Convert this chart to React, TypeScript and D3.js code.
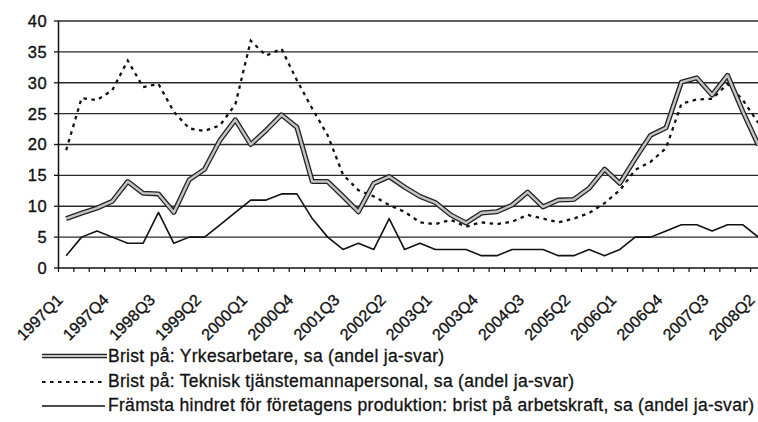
import * as d3 from "d3";

const QUARTERS = [
  "1997Q1", "1997Q2", "1997Q3", "1997Q4",
  "1998Q1", "1998Q2", "1998Q3", "1998Q4",
  "1999Q1", "1999Q2", "1999Q3", "1999Q4",
  "2000Q1", "2000Q2", "2000Q3", "2000Q4",
  "2001Q1", "2001Q2", "2001Q3", "2001Q4",
  "2002Q1", "2002Q2", "2002Q3", "2002Q4",
  "2003Q1", "2003Q2", "2003Q3", "2003Q4",
  "2004Q1", "2004Q2", "2004Q3", "2004Q4",
  "2005Q1", "2005Q2", "2005Q3", "2005Q4",
  "2006Q1", "2006Q2", "2006Q3", "2006Q4",
  "2007Q1", "2007Q2", "2007Q3", "2007Q4",
  "2008Q1", "2008Q2",
];

// every third quarter gets a label
const LABELED = [
  "1997Q1", "1997Q4", "1998Q3", "1999Q2", "2000Q1", "2000Q4", "2001Q3", "2002Q2",
  "2003Q1", "2003Q4", "2004Q3", "2005Q2", "2006Q1", "2006Q4", "2007Q3", "2008Q2",
];

const Y_TICKS = [0, 5, 10, 15, 20, 25, 30, 35, 40];

// Brist på: Yrkesarbetare
const yrkes = [
  8.0, 8.9, 9.7, 10.8, 14.0, 12.1, 12.0, 9.0, 14.3, 16.0, 20.7, 24.0,
  20.0, 22.3, 24.8, 22.8, 14.0, 14.0, 11.6, 9.1, 13.7, 14.8, 13.1,
  11.6, 10.6, 8.6, 7.3, 8.9, 9.1, 10.2, 12.3, 9.9, 11.0, 11.1,
  12.9, 16.0, 13.7, 17.7, 21.5, 22.7, 30.1, 30.8, 28.0, 31.2, 25.3, 19.9,
];

// Brist på: Teknisk tjänstemannapersonal
const teknisk = [
  19.1, 27.5, 27.2, 28.8, 33.6, 29.3, 29.8, 25.3, 22.6, 22.2, 23.1, 26.5,
  36.8, 34.4, 35.5, 30.4, 25.8, 21.5, 15.1, 12.6, 11.6, 10.2, 9.1,
  7.4, 7.1, 7.8, 6.7, 7.4, 7.1, 7.5, 8.6, 8.0, 7.4, 8.0,
  8.9, 10.5, 12.6, 15.9, 17.2, 19.4, 26.6, 27.3, 27.4, 29.8, 27.2, 23.5,
];

// Främsta hindret: brist på arbetskraft
const framsta = [
  2, 5, 6, 5, 4, 4, 9, 4, 5, 5, 7, 9,
  11, 11, 12, 12, 8, 5, 3, 4, 3, 8, 3,
  4, 3, 3, 3, 2, 2, 3, 3, 3, 2, 2, 3,
  2, 3, 5, 5, 6, 7, 7, 6, 7, 7, 5,
];

const LEGEND = [
  "Brist på: Yrkesarbetare, sa (andel ja-svar)",
  "Brist på: Teknisk tjänstemannapersonal, sa (andel ja-svar)",
  "Främsta hindret för företagens produktion: brist på arbetskraft, sa (andel ja-svar)",
];

const W = 758;
const H = 422;
const FONT = "'Liberation Sans', Arial, Helvetica, sans-serif";
const INK = "#111";

export default function App() {
  const x = d3.scaleBand<string>().domain(QUARTERS).range([58.5, 58.5 + 46 * 15.38]).padding(0);
  const y = d3.scaleLinear().domain([0, 40]).range([268, 21]);
  const cx = (q: string) => (x(q) ?? 0) + x.bandwidth() / 2;

  const line = d3
    .line<number>()
    .x((_, i) => cx(QUARTERS[i]))
    .y((d) => y(d));

  const boundaries = d3.range(QUARTERS.length + 1).map((i) => 58.5 + i * x.bandwidth());

  return (
    <svg
      width={W}
      height={H}
      style={{ position: "absolute", left: 0, top: 0, background: "#fff" }}
      fontFamily={FONT}
    >
      {/* grid */}
      {Y_TICKS.filter((t) => t > 0).map((t) => (
        <line key={t} x1={58} x2={W} y1={y(t)} y2={y(t)} stroke="#2a2a2a" strokeWidth={1.3} />
      ))}

      {/* y axis */}
      <line x1={58.5} x2={58.5} y1={y(40)} y2={y(0)} stroke={INK} strokeWidth={1.5} />
      {Y_TICKS.map((t) => (
        <g key={t}>
          <line x1={54} x2={58.5} y1={y(t)} y2={y(t)} stroke={INK} strokeWidth={1.3} />
          <text
            x={47}
            y={y(t)}
            dy="0.36em"
            textAnchor="end"
            fontSize={16.5}
            letterSpacing={0.4}
            fill={INK}
            stroke={INK}
            strokeWidth={0.35}
          >
            {t}
          </text>
        </g>
      ))}

      {/* x axis */}
      <line x1={58} x2={W} y1={y(0)} y2={y(0)} stroke={INK} strokeWidth={1.6} />
      {boundaries.map((b, i) => (
        <line key={i} x1={b} x2={b} y1={y(0)} y2={y(0) + 4} stroke={INK} strokeWidth={1.2} />
      ))}
      {LABELED.map((q) => (
        <text
          key={q}
          transform={`translate(${cx(q) - 2.5},${y(0) + 33}) rotate(-45)`}
          textAnchor="end"
          fontSize={16}
          letterSpacing={0}
          fill={INK}
          stroke={INK}
          strokeWidth={0.35}
        >
          {q}
        </text>
      ))}

      {/* series */}
      <path d={line(framsta) ?? ""} fill="none" stroke={INK} strokeWidth={1.6} strokeLinejoin="round" />
      <path
        d={line(teknisk) ?? ""}
        fill="none"
        stroke={INK}
        strokeWidth={2.3}
        strokeDasharray="3.5 4.5"
      />
      <path d={line(yrkes) ?? ""} fill="none" stroke="#222" strokeWidth={5} strokeLinejoin="round" />
      <path d={line(yrkes) ?? ""} fill="none" stroke="#c4c4c4" strokeWidth={2.4} strokeLinejoin="round" />

      {/* legend */}
      <g fontSize={17.5} letterSpacing={0.3} fill={INK}>
        <line x1={42} x2={107} y1={356} y2={356} stroke="#222" strokeWidth={4.5} />
        <line x1={42} x2={107} y1={356} y2={356} stroke="#c4c4c4" strokeWidth={2} />
        <text x={108} y={362} stroke={INK} strokeWidth={0.3}>{LEGEND[0]}</text>

        <line x1={42} x2={105} y1={382} y2={382} stroke={INK} strokeWidth={2} strokeDasharray="3.5 4.5" />
        <text x={108} y={387} stroke={INK} strokeWidth={0.3}>{LEGEND[1]}</text>

        <line x1={42} x2={105} y1={406} y2={406} stroke={INK} strokeWidth={1.5} />
        <text x={108} y={411} stroke={INK} strokeWidth={0.3}>{LEGEND[2]}</text>
      </g>
    </svg>
  );
}
